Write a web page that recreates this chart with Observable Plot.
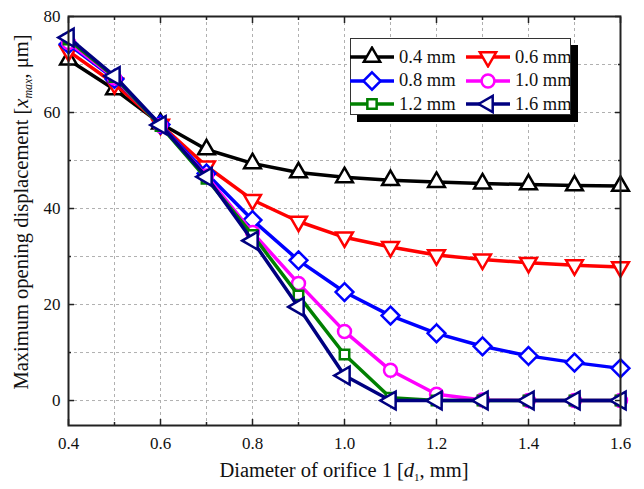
<!DOCTYPE html>
<html>
<head>
<meta charset="utf-8">
<script src="https://cdn.jsdelivr.net/npm/d3@7"></script>
<script src="https://cdn.jsdelivr.net/npm/@observablehq/plot@0.6"></script>
<style>
  html, body { margin: 0; padding: 0; background: #fff; }
  #wrap { position: relative; width: 644px; height: 489px; font-family: "Liberation Serif", serif; }
  #legend { position: absolute; left: 350px; top: 38px; width: 221px; height: 77px; border: 1px solid #333;
            background: #fff; box-shadow: 7px 7px 0 #000; box-sizing: border-box; }
  .entry { position: absolute; display: flex; align-items: center; font-size: 18.5px; color: #111; white-space: nowrap; font-family: "Liberation Serif", serif; }
  .entry svg { margin-right: 4px; }
</style>
</head>
<body>
<div id="wrap"></div>
<script>
const diameters = [0.4, 0.5, 0.6, 0.7, 0.8, 0.9, 1.0, 1.1, 1.2, 1.3, 1.4, 1.5, 1.6];
const seriesNames = ["0.4 mm", "0.6 mm", "0.8 mm", "1.0 mm", "1.2 mm", "1.6 mm"];
const s04 = [71.0, 64.8, 57.7, 52.3, 49.4, 47.5, 46.5, 45.9, 45.5, 45.2, 45.0, 44.8, 44.7];
const s06 = [72.8, 66.0, 57.5, 48.8, 41.8, 37.3, 34.0, 32.0, 30.3, 29.4, 28.7, 28.2, 27.8];
const s08 = [74.2, 67.0, 57.5, 47.3, 37.6, 29.2, 22.6, 17.7, 14.0, 11.3, 9.3, 7.9, 6.7];
const s10 = [74.6, 67.2, 57.3, 46.8, 35.0, 24.4, 14.4, 6.3, 1.3, 0.1, 0, 0, 0];
const s12 = [75.2, 67.4, 57.2, 46.2, 34.5, 21.9, 9.6, 0.6, 0, 0, 0, 0, 0];
const s16 = [75.6, 67.6, 57.4, 46.6, 33.3, 19.5, 5.2, 0, 0, 0, 0, 0, 0];
const xMajor = [0.4, 0.6, 0.8, 1.0, 1.2, 1.4, 1.6];
const xMinor = [0.5, 0.7, 0.9, 1.1, 1.3, 1.5];
const yMajor = [0, 20, 40, 60, 80];
const yMinor = [10, 30, 50, 70];
const xGrid = [0.5, 0.6, 0.7, 0.8, 0.9, 1.0, 1.1, 1.2, 1.3, 1.4, 1.5];
const yGrid = [0, 10, 20, 30, 40, 50, 60, 70];

const colors = ["#000000", "#ff0000", "#0000ff", "#ff00ff", "#008000", "#000080"];
const symbols = ["triangle2", "triangle2", "diamond2", "circle", "square2", "triangle2"];
const rotations = [0, 180, 0, 0, 0, -90];
const radii = [8, 8, 8, 6.5, 6, 8.5];
const allValues = [s04, s06, s08, s10, s12, s16];

const data = [];
allValues.forEach((vals, i) => vals.forEach((v, j) => data.push({series: seriesNames[i], idx: i, d: diameters[j], v})));

const marks = [
  Plot.ruleX(xGrid, {stroke: "#b0b0b0", strokeDasharray: "3,3", strokeWidth: 1}),
  Plot.ruleY(yGrid, {stroke: "#b0b0b0", strokeDasharray: "3,3", strokeWidth: 1}),
];
allValues.forEach((vals, i) => {
  const rows = data.filter(r => r.idx === i);
  marks.push(Plot.line(rows, {x: "d", y: "v", stroke: colors[i], strokeWidth: 3.5}));
  marks.push(Plot.dot(rows, {x: "d", y: "v", symbol: () => symbols[i], r: radii[i], rotate: rotations[i],
    stroke: colors[i], fill: "white", strokeWidth: 2.5}));
});
marks.push(
  Plot.frame({stroke: "#222", strokeWidth: 2}),
  Plot.axisX({ticks: xMajor, tickSize: -6, tickPadding: 17, tickFormat: d3.format(".1f"), fontSize: 17, label: null, stroke: "#222", strokeWidth: 1.5}),
  Plot.axisX({ticks: xMinor, tickSize: -3, tickFormat: () => "", label: null, stroke: "#222", strokeWidth: 1.5}),
  Plot.axisX({anchor: "top", ticks: xMajor, tickSize: -6, tickFormat: () => "", label: null, stroke: "#222", strokeWidth: 1.5}),
  Plot.axisX({anchor: "top", ticks: xMinor, tickSize: -3, tickFormat: () => "", label: null, stroke: "#222", strokeWidth: 1.5}),
  Plot.axisY({ticks: yMajor, tickSize: -6, tickPadding: 14, fontSize: 17, label: null, stroke: "#222", strokeWidth: 1.5}),
  Plot.axisY({ticks: yMinor, tickSize: -3, tickFormat: () => "", label: null, stroke: "#222", strokeWidth: 1.5}),
  Plot.axisY({anchor: "right", ticks: yMajor, tickSize: -6, tickFormat: () => "", label: null, stroke: "#222", strokeWidth: 1.5}),
  Plot.axisY({anchor: "right", ticks: yMinor, tickSize: -3, tickFormat: () => "", label: null, stroke: "#222", strokeWidth: 1.5})
);

const chart = Plot.plot({
  width: 644, height: 489,
  marginLeft: 68, marginRight: 24, marginTop: 16, marginBottom: 64,
  x: {domain: [0.4, 1.6]},
  y: {domain: [-5.2, 80]},
  style: {fontFamily: "Liberation Serif", fontSize: "17px", color: "#111", background: "white"},
  marks
});

const svg = d3.select(chart);
const xt = svg.append("text").attr("x", 344).attr("y", 477).attr("text-anchor", "middle")
  .attr("font-size", 20.5).attr("fill", "#111").attr("font-family", "Liberation Serif");
xt.append("tspan").text("Diameter of orifice 1 [");
xt.append("tspan").attr("font-style", "italic").text("d");
xt.append("tspan").attr("font-size", 11).attr("dy", 4).text("1");
xt.append("tspan").attr("dy", -4).text(", mm]");

const yt = svg.append("text").attr("transform", "translate(28,212) rotate(-90)").attr("text-anchor", "middle")
  .attr("font-size", 20.5).attr("fill", "#111").attr("font-family", "Liberation Serif");
yt.append("tspan").text("Maximum opening displacement [");
yt.append("tspan").attr("font-style", "italic").text("x");
yt.append("tspan").attr("font-style", "italic").attr("font-size", 12).attr("dy", 4).text("max");
yt.append("tspan").attr("dy", -4).text(", μm]");

const wrap = document.getElementById("wrap");
wrap.appendChild(chart);

const legend = document.createElement("div");
legend.id = "legend";
wrap.appendChild(legend);
const symPaths = {
  triangle2: d3.symbol(d3.symbolTriangle2, 190)(),
  diamond2: d3.symbol(d3.symbolDiamond2, 190)(),
  circle: d3.symbol(d3.symbolCircle, 130)(),
  square2: d3.symbol(d3.symbolSquare2, 110)()
};
seriesNames.forEach((name, i) => {
  const col = i % 2, row = Math.floor(i / 2);
  const e = document.createElement("div");
  e.className = "entry";
  e.style.left = (col === 0 ? -2 : 114) + "px";
  e.style.top = (7 + row * 23.5) + "px";
  e.innerHTML = `<svg width="46" height="22" viewBox="0 0 46 22">
    <line x1="1" x2="45" y1="11" y2="11" stroke="${colors[i]}" stroke-width="3.5"/>
    <path d="${symPaths[symbols[i]]}" transform="translate(23,11) rotate(${rotations[i]})" fill="white" stroke="${colors[i]}" stroke-width="2.5"/>
  </svg><span>${name}</span>`;
  legend.appendChild(e);
});
</script>
</body>
</html>
